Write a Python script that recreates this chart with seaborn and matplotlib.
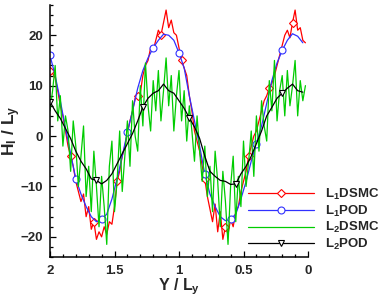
import numpy as np
import pandas as pd
import matplotlib
matplotlib.use("Agg")
import matplotlib.pyplot as plt
import seaborn as sns
from matplotlib.ticker import MultipleLocator

# ---------------- data ----------------
# L1 POD (blue), Y/Ly from 2.00 to 0.04 step 0.04
y_pod = np.round(np.arange(2.00, 0.02, -0.04), 2)
l1_pod = [16.0, 12.0, 7.0, 1.5, -3.5, -8.5, -11.5, -14.0, -16.0, -17.0,
          -16.5, -15.5, -12.5, -8.5, -4.0, 0.8, 5.0, 9.5, 13.0, 15.5,
          17.5, 19.0, 20.2, 20.0, 19.0, 16.5, 13.5, 8.0, 3.0, -2.0,
          -7.5, -11.5, -14.0, -16.0, -16.8, -16.5, -15.5, -12.5, -9.0, -5.0,
          -1.5, 2.0, 6.5, 11.0, 14.5, 17.0, 19.0, 20.3, 19.8, 18.5]
l2_pod = [6.8, 5.0, 3.5, 1.5, -0.5, -3.0, -5.0, -6.5, -8.5, -8.8,
          -9.5, -8.8, -7.5, -5.5, -3.5, -1.5, 0.5, 3.0, 5.8, 7.5,
          8.5, 9.0, 10.3, 9.0, 8.5, 7.0, 5.5, 3.6, 1.8, -0.5,
          -4.0, -7.0, -8.0, -8.8, -9.0, -9.6, -9.5, -7.5, -6.0, -4.0,
          -1.5, 1.0, 4.0, 5.7, 7.5, 8.5, 9.5, 10.3, 9.0, 8.7]

# DSMC, Y/Ly from 2.00 to 0.02 step 0.02
y_dsmc = np.round(np.arange(2.00, 0.01, -0.02), 2)
l1_dsmc = [13, 12.5, 11.5, 9, 6, 4, 1, -2, -4, -6,
           -9, -11, -13, -11.5, -16, -14, -18.5, -17, -20.5, -19,
           -20, -18, -19.5, -17, -17.5, -14, -9, -7, -4, -2,
           0.5, 3, 5, 7.5, 8, 8.5, 12, 14, 15, 17.5,
           17, 19, 21, 20, 22.5, 25, 21.5, 23, 20.5, 20,
           17.5, 15, 13.5, 12, 8, 5, 1, -1, -3, -6,
           -8.5, -12, -14.5, -17, -13.5, -19, -15, -20.5, -18, -19.5,
           -16.5, -18, -15, -14, -11, -9, -7, -4, -2, 0,
           1, 3, 5, 7, 8, 9.5, 10.5, 12, 14, 16,
           18, 20, 21, 19.5, 22.5, 25, 21, 21.5, 19, 18.5]
l2_dsmc = [5, 9, 14, 3, 8, -2, 4, 1, -7, 3,
           -2, -10, -4, 2, -12, -6, -15, -3, -10, -18,
           -8, -14, -21.5, -6, -1, -15, -9, 1, -11, -4,
           3, -6, 7, 0, -3, 10, 2, 14.5, 6, 1,
           11, 5, 13, 3, 9, 15.5, 6, 12, 1, 8,
           13, 3, 9, -1, 6, 1, -5, 4, -3, -9,
           -2, -12, -6, -15, -3, -9, -18, -7, -13, -21.5,
           -10, -4, -17, -8, -14, -1, -10, -5, 1, -8,
           4, -3, 7, 2, -1, 11, 5, 15, 3, 9,
           12, 4, 13, 6, 10, 15, 4, 11, 7, 10]

x_ticks = [2, 1.5, 1, 0.5, 0]
x_ticklabels = ["2", "1.5", "1", "0.5", "0"]
y_ticks = [-20, -10, 0, 10, 20]

# ---------------- style ----------------
sns.set_theme(style="ticks")
plt.rcParams["font.family"] = ["Liberation Sans", "DejaVu Sans"]
plt.rcParams["font.weight"] = "bold"
plt.rcParams["mathtext.fontset"] = "custom"
plt.rcParams["mathtext.rm"] = "Liberation Sans:bold"
plt.rcParams["mathtext.bf"] = "Liberation Sans:bold"
plt.rcParams["mathtext.it"] = "Liberation Sans:bold"

fig = plt.figure(figsize=(3.82, 2.98), dpi=100)
ax = fig.add_axes([50 / 382, 1 - 257 / 298, 258 / 382, 252 / 298])

df1 = pd.DataFrame({"Y": y_dsmc, "L1DSMC": l1_dsmc, "L2DSMC": l2_dsmc})
df2 = pd.DataFrame({"Y": y_pod, "L1POD": l1_pod, "L2POD": l2_pod})

red_marks = [0, 8, 17, 26, 34, 43, 51, 60, 68, 77, 85, 94]
common = dict(sort=False, estimator=None, errorbar=None, ax=ax)

sns.lineplot(data=df1, x="Y", y="L1DSMC", color="#ff0000", lw=0.9,
             marker="D", ms=3.6, mfc="white", mec="#ff0000", mew=0.8,
             markevery=red_marks, label="L$_1$DSMC", **common)
sns.lineplot(data=df2, x="Y", y="L1POD", color="#3030ff", lw=0.9,
             marker="o", ms=5.0, mfc="white", mec="#3030ff", mew=0.8,
             markevery=5, label="L$_1$POD", **common)
sns.lineplot(data=df1, x="Y", y="L2DSMC", color="#00cc00", lw=0.9,
             label="L$_2$DSMC", **common)
sns.lineplot(data=df2, x="Y", y="L2POD", color="#000000", lw=0.9,
             marker="v", ms=5.0, mfc="white", mec="#000000", mew=0.8,
             markevery=9, label="L$_2$POD", **common)

ax.set_xlim(2, 0)
ax.set_ylim(-24, 26)
ax.set_xticks(x_ticks)
ax.set_xticklabels(x_ticklabels)
ax.set_yticks(y_ticks)
ax.xaxis.set_minor_locator(MultipleLocator(0.1))
ax.yaxis.set_minor_locator(MultipleLocator(2))
ax.tick_params(which="both", direction="in", width=0.9, color="black",
               labelsize=9.5)
ax.tick_params(which="major", length=4.5)
ax.tick_params(which="minor", length=2.3)
ax.tick_params(axis="y", pad=5)
ax.tick_params(axis="x", pad=6)
for lab in ax.get_xticklabels() + ax.get_yticklabels():
    lab.set_fontweight("bold")

for s in ["top", "right"]:
    ax.spines[s].set_visible(False)
for s in ["left", "bottom"]:
    ax.spines[s].set_linewidth(1.1)
    ax.spines[s].set_color("black")

ax.set_xlabel(r"Y / L$_\mathregular{y}$", fontsize=11.5, fontweight="bold", labelpad=-1)
ax.set_ylabel(r"H$_\mathregular{l}$ / L$_\mathregular{y}$", fontsize=12.5,
              fontweight="bold", labelpad=-2)

leg = ax.legend(loc="upper left", bbox_to_anchor=(248 / 382, 1 - 187 / 298),
                bbox_transform=fig.transFigure, frameon=False, fontsize=9.5,
                handlelength=5.0, handletextpad=0.8, labelspacing=0.12,
                borderpad=0, borderaxespad=0)
for t in leg.get_texts():
    t.set_fontweight("bold")

fig.savefig("out.png", dpi=100)
